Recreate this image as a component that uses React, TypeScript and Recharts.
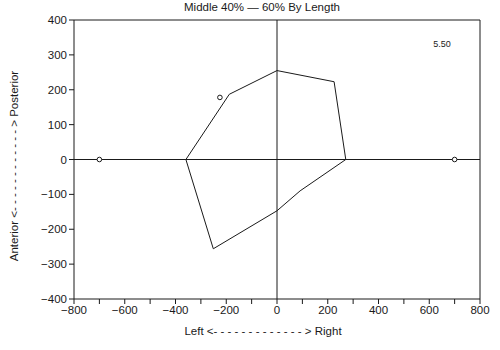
import React from 'react';
import { ScatterChart, Scatter, XAxis, YAxis, ReferenceLine } from 'recharts';

const outlineX = [-359, -188, 0, 225, 271, 91, 0, -251, -359];
const outlineY = [0, 187, 255, 223, 0, -90, -147, -256, 0];
const markerX = [-700, 700, -225];
const markerY = [0, 0, 178];
const xTicks = [-800, -700, -600, -500, -400, -300, -200, -100, 0, 100, 200, 300, 400, 500, 600, 700, 800];
const yTicks = [-400, -300, -200, -100, 0, 100, 200, 300, 400];
const titleText = 'Middle 40% \u2014 60% By Length';
const xLabel = 'Left <' + '- '.repeat(13) + '> Right';
const yLabel = 'Anterior <' + '- '.repeat(12) + '> Posterior';
const cornerText = '5.50';

const outline = outlineX.map((x, i) => ({ x, y: outlineY[i] }));
const markers = markerX.map((x, i) => ({ x, y: markerY[i] }));

const fmt = (v: number) => (v < 0 ? '\u2212' + Math.abs(v) : String(v));
const FONT = 'Liberation Sans, Arial, Helvetica, sans-serif';
const INK = '#1a1a1a';

const OpenCircle = (props: any) => (
  <circle cx={props.cx} cy={props.cy} r={2.3} fill="#fff" stroke={INK} strokeWidth={1} />
);

export default function App() {
  return (
    <div style={{ position: 'absolute', left: 0, top: 0, width: 500, height: 350, background: '#fff' }}>
      <ScatterChart width={500} height={350} margin={{ top: 20, right: 20, bottom: 21, left: 4 }}>
        <XAxis
          type="number"
          dataKey="x"
          domain={[-800, 800]}
          ticks={xTicks}
          interval={0}
          tickFormatter={(v: number) => (v % 200 === 0 ? fmt(v) : '')}
          tick={{ fill: INK, fontSize: 11.5, fontFamily: FONT }}
          stroke={INK}
          tickSize={5}
          height={30}
          allowDataOverflow
        />
        <YAxis
          type="number"
          dataKey="y"
          domain={[-400, 400]}
          ticks={yTicks}
          interval={0}
          tickFormatter={fmt}
          tick={{ fill: INK, fontSize: 11.5, fontFamily: FONT }}
          stroke={INK}
          tickSize={5}
          width={70}
          allowDataOverflow
        />
        <ReferenceLine x={0} stroke={INK} strokeWidth={1} />
        <ReferenceLine y={0} stroke={INK} strokeWidth={1} />
        <ReferenceLine x={800} stroke={INK} strokeWidth={1} />
        <ReferenceLine y={400} stroke={INK} strokeWidth={1} />
        <Scatter
          data={outline}
          line={{ stroke: INK, strokeWidth: 1 }}
          shape={() => null}
          isAnimationActive={false}
        />
        <Scatter data={markers} shape={OpenCircle} isAnimationActive={false} />
        <text x={262} y={11} textAnchor="middle" fontSize={11.5} fontFamily={FONT} fill={INK}>
          {titleText}
        </text>
        <text x={263} y={335} textAnchor="middle" fontSize={11.5} fontFamily={FONT} fill={INK}>
          {xLabel}
        </text>
        <text
          x={18}
          y={166}
          textAnchor="middle"
          fontSize={11.5}
          fontFamily={FONT}
          fill={INK}
          transform="rotate(-90 18 166)"
        >
          {yLabel}
        </text>
        <text x={442} y={47} textAnchor="middle" fontSize={9} fontFamily={FONT} fill={INK}>
          {cornerText}
        </text>
      </ScatterChart>
    </div>
  );
}
